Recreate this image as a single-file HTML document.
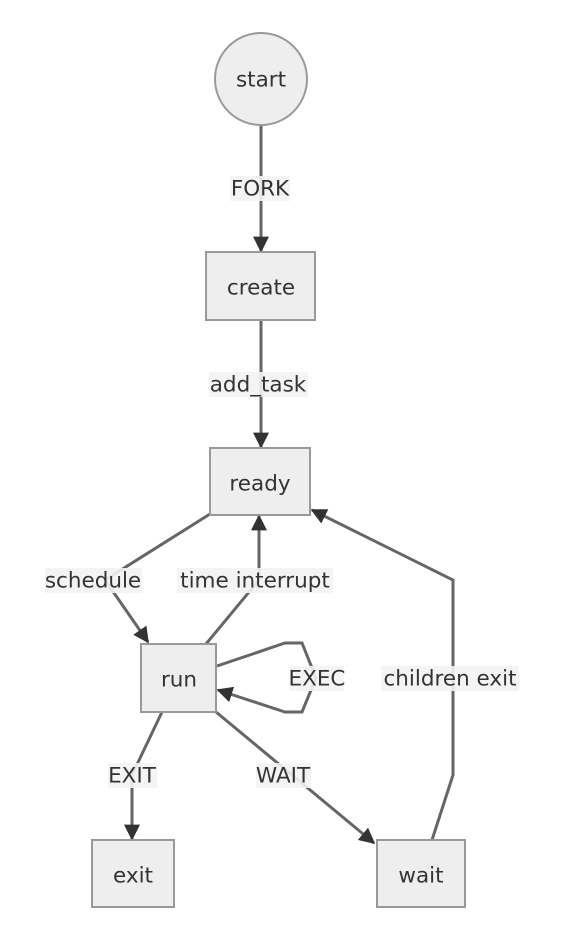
<html><head><style>body{margin:0;background:#fff}</style></head><body>
<svg width="563" height="952" xmlns="http://www.w3.org/2000/svg" font-family="'DejaVu Sans','Liberation Sans',sans-serif" font-size="21.5" fill="#333">
<defs><marker id="b" viewBox="0 0 10 10" refX="9" refY="5" markerWidth="16" markerHeight="16" markerUnits="userSpaceOnUse" orient="auto"><path d="M0,0L10,5L0,10z" fill="#333"/></marker></defs>
<g stroke="#666" stroke-width="3" fill="none" marker-end="url(#b)">
<path d="M261,125V251"/>
<path d="M261,320V447"/>
<path d="M210,514L105,580L148,642"/>
<path d="M206,644L259,580V516"/>
<path d="M217,666L285,643H302L316,678L302,712H285L218,690"/>
<path d="M162,712L132,775V839"/>
<path d="M216,712L374,843"/>
<path d="M432,840L453,775V580L312,510"/>
</g>
<g fill="#eee" stroke="#999" stroke-width="2">
<circle cx="261" cy="79" r="46"/>
<rect x="206" y="252" width="109" height="68"/>
<rect x="210" y="448" width="100" height="67"/>
<rect x="141" y="644" width="75" height="68"/>
<rect x="92" y="840" width="82" height="67"/>
<rect x="377" y="840" width="88" height="67"/>
</g>
<g fill="#f3f3f3" opacity="0.9">
<rect x="230" y="176" width="60" height="25"/>
<rect x="209" y="372" width="99" height="25"/>
<rect x="45" y="568" width="97" height="25"/>
<rect x="177" y="568" width="156" height="25"/>
<rect x="290" y="666" width="54" height="25"/>
<rect x="381" y="666" width="138" height="25"/>
<rect x="108" y="763" width="49" height="25"/>
<rect x="256" y="763" width="55" height="25"/>
</g>
<g text-anchor="middle" dominant-baseline="central">
<text x="261" y="80">start</text>
<text x="261" y="288">create</text>
<text x="260" y="484">ready</text>
<text x="179" y="680">run</text>
<text x="133" y="876">exit</text>
<text x="421" y="876">wait</text>
<text x="260" y="189">FORK</text>
<text x="258" y="385">add_task</text>
<text x="93" y="581">schedule</text>
<text x="255" y="581">time interrupt</text>
<text x="317" y="679">EXEC</text>
<text x="450" y="679">children exit</text>
<text x="132" y="776">EXIT</text>
<text x="283" y="776">WAIT</text>
</g>
</svg>
</body></html>
